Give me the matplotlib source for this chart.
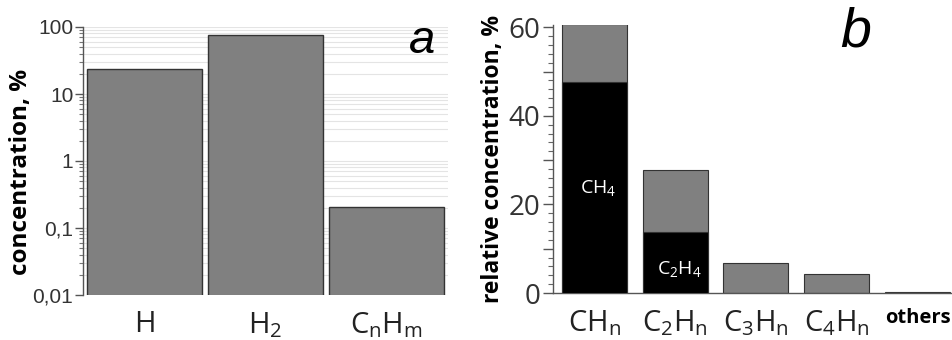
import numpy as np
import matplotlib
matplotlib.use("Agg")
import matplotlib.pyplot as plt
from matplotlib.ticker import LogLocator, MultipleLocator, NullFormatter

plt.rcParams['font.family'] = ['Open Sans', 'DejaVu Sans']
plt.rcParams['mathtext.default'] = 'regular'

# panel a: absolute concentrations (log scale)
species_a = ['H', r'$H_2$', r'$C_nH_m$']
conc_a = [23.6, 76.0, 0.206]
yticks_a = [0.01, 0.1, 1, 10, 100]
yticklabels_a = ['0,01', '0,1', '1', '10', '100']

# panel b: relative concentration of hydrocarbons
species_b = [r'$CH_n$', r'$C_2H_n$', r'$C_3H_n$', r'$C_4H_n$', 'others']
total_b = [60.7, 27.7, 6.8, 4.3, 0.3]
inner_b = [47.6, 13.7, 0, 0, 0]
inner_names = [r'$CH_4$', r'$C_2H_4$']

GRAY = '#808080'
EDGE = '#333333'
TICK = '#333333'

fig = plt.figure(figsize=(9.53, 3.40), dpi=100)

# ---------- panel a ----------
ax1 = fig.add_axes([83 / 953, 1 - 295 / 340, (448 - 83) / 953, (295 - 27) / 340])
x1 = np.arange(len(species_a))
ax1.bar(x1, conc_a, width=0.95, color=GRAY, edgecolor=EDGE, linewidth=1.0, zorder=3)
ax1.set_yscale('log')
ax1.set_ylim(0.01, 100)
ax1.set_xlim(-0.51, 2.51)
ax1.set_yticks(yticks_a)
ax1.set_yticklabels(yticklabels_a, family='Liberation Sans', fontsize=15, color=TICK)
ax1.yaxis.set_minor_locator(LogLocator(base=10, subs=np.arange(2, 10)))
ax1.yaxis.set_minor_formatter(NullFormatter())
ax1.yaxis.grid(True, which='both', color='#e4e4e4', linewidth=0.8, zorder=0)
ax1.set_axisbelow(True)
ax1.set_xticks(x1)
ax1.set_xticklabels(species_a, fontsize=21, color='#222222')
ax1.tick_params(axis='x', length=0, pad=11)
ax1.tick_params(axis='y', which='major', direction='out', length=6, width=1, color='#555555', pad=1)
ax1.tick_params(axis='y', which='minor', direction='out', length=3, width=0.8, color='#777777')
for s in ['top', 'right', 'bottom']:
    ax1.spines[s].set_visible(False)
ax1.spines['left'].set_color('#555555')
ax1.spines['left'].set_linewidth(1.0)
ax1.set_ylabel('concentration, %', fontsize=17.5, fontweight='bold')
ax1.yaxis.set_label_coords(-0.137, 0.46)
ax1.text(0.965, 1.03, 'a', transform=ax1.transAxes, ha='right', va='top',
         fontsize=34, style='italic', family='Liberation Sans')

# ---------- panel b ----------
ax2 = fig.add_axes([553 / 953, 1 - 293 / 340, (953 - 553) / 953, (293 - 25) / 340])
x2 = np.arange(len(species_b))
ax2.bar(x2, total_b, width=0.805, color=GRAY, edgecolor=EDGE, linewidth=0.8, zorder=2)
inner_idx = [i for i, v in enumerate(inner_b) if v > 0]
ax2.bar([x2[i] for i in inner_idx], [inner_b[i] for i in inner_idx], width=0.805,
        color='black', edgecolor=EDGE, linewidth=0.8, zorder=3)
for i, name in zip(inner_idx, inner_names):
    ypos = inner_b[i] * 0.5 if i == 0 else inner_b[i] * 0.4
    ax2.text(x2[i] + 0.05, ypos, name, color='white', ha='center', va='center', fontsize=14, zorder=4)
ax2.set_ylim(0, 60.5)
ax2.set_xlim(-0.514, 4.44)
ax2.set_yticks([0, 10, 20, 30, 40, 50, 60])
ax2.set_yticklabels(['0', '', '20', '', '40', '', '60'], fontsize=20, color=TICK)
ax2.yaxis.set_minor_locator(MultipleLocator(2))
ax2.set_xticks(x2)
ax2.set_xticklabels(species_b, fontsize=21, color='#222222')
xl = ax2.get_xticklabels()
xl[-1].set_fontsize(14.5)
xl[-1].set_fontweight('bold')
xl[-1].set_color('black')
ax2.tick_params(axis='x', length=0, pad=11)
ax2.tick_params(axis='y', which='major', direction='out', length=7, width=1, color='#555555', pad=2)
ax2.tick_params(axis='y', which='minor', direction='out', length=3.5, width=0.8, color='#666666')
for s in ['top', 'right']:
    ax2.spines[s].set_visible(False)
for s in ['left', 'bottom']:
    ax2.spines[s].set_color('#555555')
    ax2.spines[s].set_linewidth(1.0)
ax2.set_ylabel('relative concentration, %', fontsize=16.5, fontweight='bold')
ax2.yaxis.set_label_coords(-0.12, 0.5)
ax2.text(0.757, 1.07, 'b', transform=ax2.transAxes, ha='center', va='top',
         fontsize=40, style='italic', family='Liberation Sans')

fig.savefig('out.png', dpi=100)
